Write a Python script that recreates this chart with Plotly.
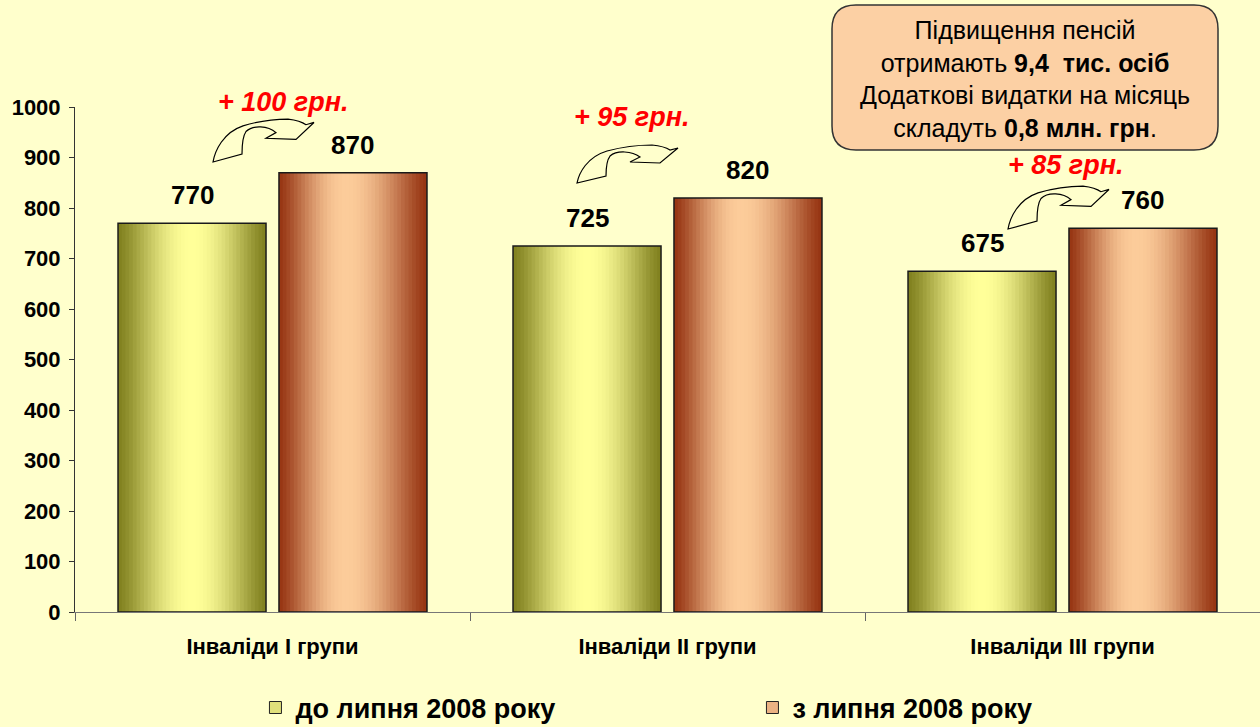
import math
import plotly.graph_objects as go

categories = ["Інваліди I групи", "Інваліди II групи", "Інваліди III групи"]
before_july = [770, 725, 675]
from_july = [870, 820, 760]
increase_labels = ["+ 100 грн.", "+ 95 грн.", "+ 85 грн."]
series_names = ["до липня 2008 року", "з липня 2008 року"]
y_ticks = [0, 100, 200, 300, 400, 500, 600, 700, 800, 900, 1000]

FONT = "Liberation Sans, Arial, sans-serif"
BG = "#FFFFCC"

# layout geometry (pixels)
L, R, T, B = 75, 0, 107, 115
W, H = 1260, 727
PW, PH = W - L - R, H - T - B

BAR_W = 0.3747
OFFSETS = [-0.3911, 0.0164]
N = 40

edge_cols = [(128, 128, 30), (150, 52, 18)]
mid_cols = [(255, 255, 153), (252, 204, 154)]
peaks = [0.5, 0.45]


def grad_color(edge, mid, t, peak=0.45):
    f = t / peak if t < peak else (1 - t) / (1 - peak)
    f = math.sin(f * math.pi / 2) ** 1.3
    c = [round(e + (m - e) * f) for e, m in zip(edge, mid)]
    return "rgb(%d,%d,%d)" % tuple(c)


fig = go.Figure()
series = [before_july, from_july]
for s, vals in enumerate(series):
    for i in range(N):
        t = (i + 0.5) / N
        w = BAR_W / N
        fig.add_trace(go.Bar(
            x=categories, y=vals, offset=OFFSETS[s] + i * w,
            width=w * (1.25 if i < N - 1 else 1.0),
            marker=dict(color=grad_color(edge_cols[s], mid_cols[s], t, peaks[s]), line=dict(width=0)),
            showlegend=False, hoverinfo="skip"))
    fig.add_trace(go.Bar(
        x=categories, y=vals, offset=OFFSETS[s], width=BAR_W,
        marker=dict(color="rgba(0,0,0,0)", line=dict(color="#1a1a1a", width=1.5)),
        showlegend=False, hoverinfo="skip"))

for s in range(2):
    fig.add_trace(go.Bar(
        x=categories, y=[None] * 3, name="<b>%s</b>" % series_names[s],
        marker=dict(color=grad_color(edge_cols[s], mid_cols[s], 0.3, peaks[s]),
                    line=dict(color="#222", width=1)),
        showlegend=True))

ann = []
for s, vals in enumerate(series):
    for k, v in enumerate(vals):
        ann.append(dict(x=k + OFFSETS[s] + BAR_W / 2, y=v, xref="x", yref="y",
                        text="<b>%d</b>" % v, showarrow=False, yanchor="middle", xanchor="center",
                        yshift=28, font=dict(family=FONT, size=26, color="black")))

Y_MAX = y_ticks[-1]
inc_pos = [(0.027, 1010), (0.91, 980), (2.009, 885)]
for (x, y), t in zip(inc_pos, increase_labels):
    ann.append(dict(x=x, y=y / Y_MAX, xref="x", yref="paper", text="<b><i>%s</i></b>" % t,
                    xanchor="center", yanchor="middle",
                    showarrow=False, font=dict(family=FONT, size=27, color="#FF0000")))

ann.append(dict(x=(1025 - L) / PW, y=(H - B - 79) / PH, xref="paper", yref="paper",
                xanchor="center", yanchor="middle",
                text="Підвищення пенсій<br>отримають <b>9,4  тис. осіб</b><br>"
                     "Додаткові видатки на місяць<br>складуть <b>0,8 млн. грн</b>.",
                showarrow=False, align="center",
                font=dict(family=FONT, size=25, color="black")))


def px2paper(px, py):
    return (px - L) / PW, (H - B - py) / PH


def P(x, y):
    a, b = px2paper(x, y)
    return "%.5f,%.5f" % (a, b)


def rounded_rect(x0, y0, x1, y1, r):
    return "M%s L%s Q%s %s L%s Q%s %s L%s Q%s %s L%s Q%s %s Z" % (
        P(x0 + r, y0), P(x1 - r, y0), P(x1, y0), P(x1, y0 + r),
        P(x1, y1 - r), P(x1, y1), P(x1 - r, y1),
        P(x0 + r, y1), P(x0, y1), P(x0, y1 - r),
        P(x0, y0 + r), P(x0, y0), P(x0 + r, y0))


shapes = [dict(type="path", xref="paper", yref="paper",
               path=rounded_rect(832, 5, 1218, 150, 24),
               fillcolor="#FCD0A4", line=dict(color="#333333", width=1.5), layer="below")]

arrow_tpl = [("M", [(0, 0)]),
             ("C", [(2, -10), (10, -26), (30, -32)]),
             ("C", [(45, -36), (60, -38), (75, -38)]),
             ("C", [(85, -37), (90, -35), (93, -33)]),
             ("L", [(101, -35)]), ("L", [(83, -20)]), ("L", [(53, -21)]), ("L", [(63, -26)]),
             ("C", [(55, -32), (40, -33), (33, -27)]),
             ("C", [(29, -22), (29, -12), (29, -7)])]
arrow_anchor = [(213, 162, 1.13), (577, 183, 1.0), (1008, 229, 1.13)]
for ax, ay, sy in arrow_anchor:
    parts = []
    for cmd, pts in arrow_tpl:
        parts.append(cmd + " ".join(P(ax + dx, ay + dy * sy) for dx, dy in pts))
    shapes.append(dict(type="path", xref="paper", yref="paper", path=" ".join(parts) + " Z",
                       fillcolor="rgba(0,0,0,0)", line=dict(color="black", width=1.2)))

fig.update_layout(
    width=W, height=H, barmode="overlay",
    paper_bgcolor=BG, plot_bgcolor=BG,
    margin=dict(l=L, r=R, t=T, b=B, autoexpand=False),
    font=dict(family=FONT, color="black"),
    annotations=ann, shapes=shapes,
    legend=dict(orientation="h", x=(291 - L) / PW - 0.03, xanchor="left",
                y=-0.19, yanchor="middle", entrywidth=452, entrywidthmode="pixels",
                font=dict(family=FONT, size=27, color="black"),
                bgcolor="rgba(0,0,0,0)", itemwidth=30),
    xaxis=dict(type="category", tickson="boundaries", ticks="outside", ticklen=8,
               tickcolor="#666", showline=True, linecolor="#777", linewidth=1,
               showgrid=False, zeroline=False, range=[-0.5, 2.5], ticklabelstandoff=15,
               automargin=False,
               tickfont=dict(family=FONT, size=22, color="black"),
               tickvals=categories, ticktext=["<b>%s</b>" % c for c in categories]),
    yaxis=dict(range=[0, Y_MAX], tickvals=y_ticks, ticks="outside", ticklen=5,
               tickcolor="#333", showline=True, linecolor="#333", linewidth=1,
               showgrid=False, zeroline=False, ticklabelstandoff=4, automargin=False,
               ticktext=["<b>%d</b>" % v for v in y_ticks],
               tickfont=dict(family=FONT, size=22, color="black")),
)

fig.write_html("out.html", config={"displayModeBar": False},
               post_script="document.body.style.margin='0px';")
